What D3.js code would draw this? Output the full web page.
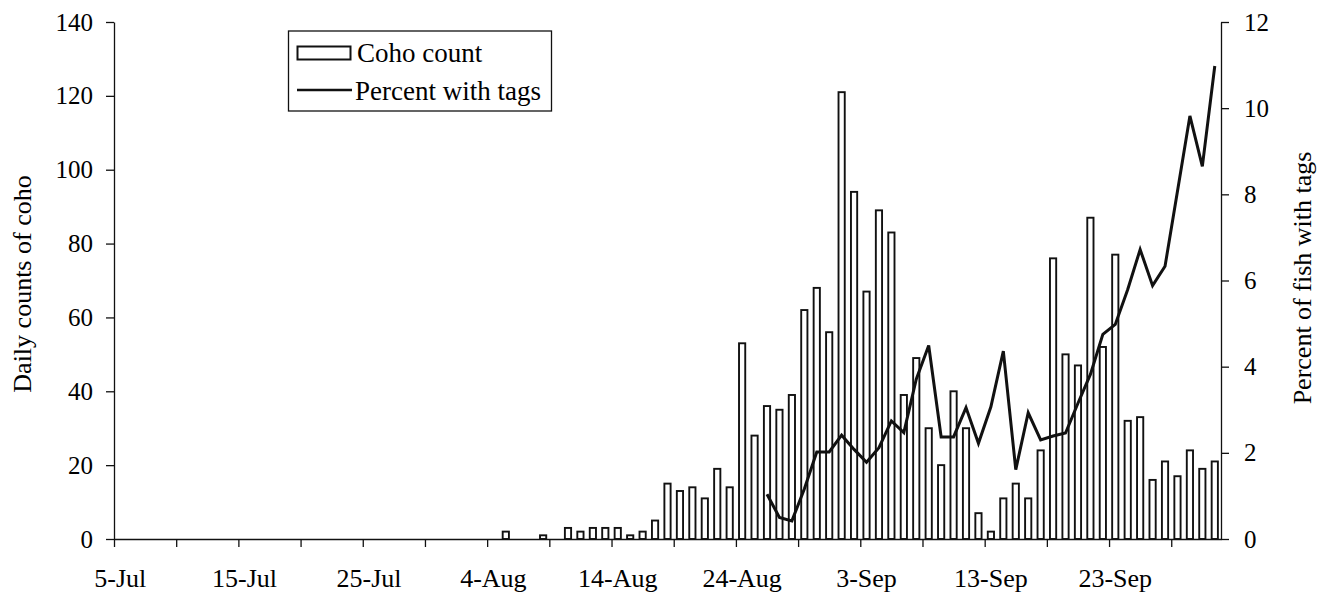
<!DOCTYPE html>
<html>
<head>
<meta charset="utf-8">
<script src="https://cdn.jsdelivr.net/npm/d3@7"></script>
<style>
  html, body { margin: 0; padding: 0; background: #fff; }
  svg { display: block; }
  text { font-family: "Liberation Serif", "Times New Roman", serif; fill: #000; }
</style>
</head>
<body>
<svg id="chart" width="1319" height="596"></svg>
<script>
// Day index 0 = 5-Jul ... 88 = 1-Oct
const dayCount = 89;
const tickDays = [0, 10, 20, 30, 40, 50, 60, 70, 80];
const tickLabels = ["5-Jul", "15-Jul", "25-Jul", "4-Aug", "14-Aug", "24-Aug", "3-Sep", "13-Sep", "23-Sep"];
const minorTickDays = [0, 5, 10, 15, 20, 25, 30, 35, 40, 45, 50, 55, 60, 65, 70, 75, 80, 85];

// Daily coho counts (days 0..88)
const cohoCounts = [
  0, 0, 0, 0, 0, 0, 0, 0, 0, 0,      // 5-Jul .. 14-Jul
  0, 0, 0, 0, 0, 0, 0, 0, 0, 0,      // 15-Jul .. 24-Jul
  0, 0, 0, 0, 0, 0, 0, 0, 0, 0,      // 25-Jul .. 3-Aug
  0, 2, 0, 0, 1, 0, 3, 2, 3, 3,      // 4-Aug .. 13-Aug
  3, 1, 2, 5, 15, 13, 14, 11, 19, 14, // 14-Aug .. 23-Aug
  53, 28, 36, 35, 39, 62, 68, 56, 121, 94, // 24-Aug .. 2-Sep
  67, 89, 83, 39, 49, 30, 20, 40, 30, 7,   // 3-Sep .. 12-Sep
  2, 11, 15, 11, 24, 76, 50, 47, 87, 52,   // 13-Sep .. 22-Sep
  77, 32, 33, 16, 21, 17, 24, 19, 21       // 23-Sep .. 1-Oct
];

// Percent with tags, starting at day 52 (26-Aug)
const pctStartDay = 52;
const pctWithTags = [
  1.04, 0.50, 0.42, 1.16, 2.02, 2.02, 2.41, 2.08, 1.78, 2.12,
  2.74, 2.47, 3.71, 4.49, 2.37, 2.37, 3.05, 2.22, 3.07, 4.36,
  1.61, 2.93, 2.30, 2.39, 2.46, 3.15, 3.82, 4.75, 4.98, 5.79,
  6.72, 5.88, 6.33, 8.07, 9.82, 8.65, 10.98
];

const leftTicks = [0, 20, 40, 60, 80, 100, 120, 140];
const rightTicks = [0, 2, 4, 6, 8, 10, 12];

const svg = d3.select("#chart");
const x0 = 114, x1 = 1221, yTop = 22, yBot = 539;

const x = d3.scaleLinear().domain([0, dayCount]).range([x0, x1]);
const yL = d3.scaleLinear().domain([0, 140]).range([yBot, yTop]);
const yR = d3.scaleLinear().domain([0, 12]).range([yBot, yTop]);

const numSize = 25, labSize = 26;

// Bars
const dayW = x(1) - x(0);
const barW = dayW * 0.5;
svg.append("g")
  .selectAll("rect")
  .data(cohoCounts.map((v, i) => ({ d: i, v })).filter(o => o.v > 0))
  .join("rect")
  .attr("x", o => x(o.d + 0.5) - barW / 2)
  .attr("y", o => yL(o.v))
  .attr("width", barW)
  .attr("height", o => yL(0) - yL(o.v))
  .attr("fill", "#fff")
  .attr("stroke", "#111")
  .attr("stroke-width", 1.9);

// Line
const lineData = pctWithTags.map((v, i) => ({ d: pctStartDay + i, v }));
svg.append("path")
  .datum(lineData)
  .attr("fill", "none")
  .attr("stroke", "#111")
  .attr("stroke-width", 3)
  .attr("stroke-linejoin", "miter")
  .attr("d", d3.line().x(o => x(o.d + 0.5)).y(o => yR(o.v)));

// Left axis
const gL = svg.append("g").attr("transform", `translate(${x0},0)`)
  .call(d3.axisLeft(yL).tickValues(leftTicks).tickSize(8).tickPadding(13).tickSizeOuter(0));
// Right axis
const gR = svg.append("g").attr("transform", `translate(${x1},0)`)
  .call(d3.axisRight(yR).tickValues(rightTicks).tickSize(8).tickPadding(15).tickSizeOuter(0));
// X axis: minor ticks
const gX = svg.append("g").attr("transform", `translate(0,${yBot})`)
  .call(d3.axisBottom(x).tickValues(minorTickDays).tickSize(8).tickFormat("").tickSizeOuter(0));
// X labels (centered in the day slot)
svg.append("g")
  .selectAll("text")
  .data(tickDays)
  .join("text")
  .attr("x", d => x(d + 0.5))
  .attr("y", 587)
  .attr("text-anchor", "middle")
  .attr("font-size", labSize)
  .text((d, i) => tickLabels[i]);

[gL, gR, gX].forEach(g => {
  g.select(".domain").attr("stroke", "#111").attr("stroke-width", 1.3);
  g.selectAll(".tick line").attr("stroke", "#111").attr("stroke-width", 1.3);
  g.selectAll(".tick text")
    .attr("font-size", numSize)
    .attr("font-family", "Liberation Serif, serif")
    .attr("fill", "#000");
});

// Axis titles
svg.append("text")
  .attr("transform", `translate(31,284) rotate(-90)`)
  .attr("text-anchor", "middle")
  .attr("font-size", labSize)
  .text("Daily counts of coho");
svg.append("text")
  .attr("transform", `translate(1311,278) rotate(-90)`)
  .attr("text-anchor", "middle")
  .attr("font-size", labSize)
  .text("Percent of fish with tags");

// Legend
const lg = svg.append("g");
lg.append("rect")
  .attr("x", 288.5).attr("y", 31).attr("width", 263).attr("height", 80)
  .attr("fill", "#fff").attr("stroke", "#111").attr("stroke-width", 1.3);
lg.append("rect")
  .attr("x", 297.5).attr("y", 46.5).attr("width", 53).attr("height", 13)
  .attr("fill", "#fff").attr("stroke", "#111").attr("stroke-width", 2);
lg.append("text").attr("x", 357).attr("y", 62).attr("font-size", 27).text("Coho count");
lg.append("line")
  .attr("x1", 297).attr("x2", 352).attr("y1", 90).attr("y2", 90)
  .attr("stroke", "#111").attr("stroke-width", 2.5);
lg.append("text").attr("x", 355).attr("y", 100).attr("font-size", 27).text("Percent with tags");
</script>
</body>
</html>
